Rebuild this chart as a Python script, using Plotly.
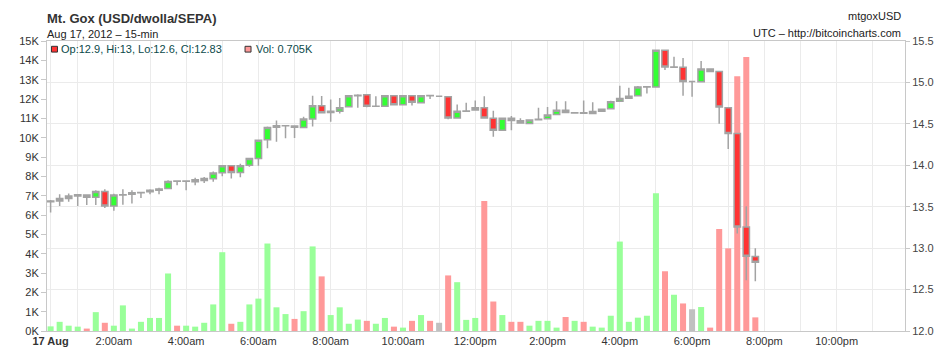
import plotly.graph_objects as go
import pandas as pd

# ---------------- data (15-min candles, Aug 17 2012) ----------------
first_candle = "2012-08-17 00:15"
opens = [13.56, 13.57, 13.60, 13.63, 13.64, 13.615, 13.685, 13.51, 13.64, 13.65,
         13.668, 13.68, 13.70, 13.72, 13.81, 13.807, 13.80, 13.817, 13.836, 13.91,
         13.995, 13.913, 14.0, 14.081, 14.307, 14.458, 14.476, 14.474, 14.455, 14.56,
         14.719, 14.637, 14.653, 14.707, 14.84, 14.852, 14.712, 14.712, 14.84, 14.731,
         14.84, 14.754, 14.842, 14.832, 14.828, 14.572, 14.653, 14.668, 14.695, 14.567,
         14.423, 14.567, 14.537, 14.505, 14.55, 14.563, 14.614, 14.665, 14.632, 14.635,
         14.625, 14.653, 14.682, 14.773, 14.808, 14.84, 14.945, 14.945, 15.388, 15.183,
         15.182, 15.01, 15.007, 15.162, 15.132, 14.695, 14.385, 13.256, 12.9]
highs = [13.58, 13.65, 13.66, 13.65, 13.65, 13.70, 13.71, 13.655, 13.71, 13.70,
         13.675, 13.71, 13.73, 13.82, 13.812, 13.812, 13.85, 13.86, 13.925, 14.003,
         14.003, 14.018, 14.088, 14.307, 14.467, 14.54, 14.48, 14.48, 14.587, 14.838,
         14.835, 14.793, 14.812, 14.84, 14.856, 14.856, 14.832, 14.842, 14.842, 14.842,
         14.842, 14.842, 14.852, 14.84, 14.832, 14.735, 14.754, 14.782, 14.832, 14.657,
         14.57, 14.595, 14.567, 14.555, 14.695, 14.703, 14.773, 14.773, 14.64, 14.782,
         14.762, 14.68, 14.78, 14.96, 14.937, 14.957, 14.95, 15.395, 15.395, 15.31,
         15.295, 15.012, 15.26, 15.17, 15.135, 14.70, 14.39, 13.505, 13.0]
lows = [13.43, 13.51, 13.56, 13.51, 13.52, 13.52, 13.485, 13.45, 13.525, 13.54,
        13.605, 13.65, 13.65, 13.71, 13.76, 13.70, 13.76, 13.785, 13.80, 13.867,
        13.84, 13.855, 13.983, 13.995, 14.205, 14.283, 14.326, 14.33, 14.45, 14.467,
        14.633, 14.525, 14.625, 14.707, 14.695, 14.70, 14.71, 14.71, 14.725, 14.73,
        14.723, 14.75, 14.80, 14.83, 14.555, 14.57, 14.65, 14.665, 14.57, 14.345,
        14.42, 14.423, 14.505, 14.50, 14.548, 14.56, 14.61, 14.635, 14.63, 14.625,
        14.62, 14.649, 14.68, 14.77, 14.805, 14.838, 14.867, 14.94, 15.15, 15.18,
        14.84, 14.828, 15.005, 15.13, 14.502, 14.198, 13.178, 12.611, 12.6]
closes = [13.57, 13.60, 13.63, 13.645, 13.615, 13.685, 13.51, 13.64, 13.645, 13.67,
          13.673, 13.70, 13.715, 13.805, 13.807, 13.81, 13.825, 13.84, 13.906, 13.995,
          13.913, 13.995, 14.081, 14.303, 14.455, 14.476, 14.478, 14.458, 14.56, 14.719,
          14.633, 14.653, 14.695, 14.84, 14.845, 14.712, 14.714, 14.84, 14.731, 14.84,
          14.762, 14.84, 14.838, 14.832, 14.572, 14.653, 14.655, 14.695, 14.572, 14.423,
          14.567, 14.54, 14.509, 14.548, 14.555, 14.607, 14.665, 14.637, 14.635, 14.628,
          14.649, 14.677, 14.768, 14.806, 14.832, 14.945, 14.948, 15.388, 15.185, 15.186,
          15.01, 15.01, 15.162, 15.132, 14.703, 14.385, 13.256, 12.903, 12.83]
volumes_k = [0.24, 0.475, 0.275, 0.225, 0.125, 0.975, 0.425, 0.275, 1.325, 0.125,
             0.475, 0.675, 0.675, 2.975, 0.275, 0.275, 0.225, 0.425, 1.375, 4.075,
             0.375, 0.475, 1.375, 1.675, 4.525, 1.225, 0.875, 0.625, 1.025, 4.375,
             2.825, 0.825, 1.225, 0.375, 0.59, 0.525, 0.375, 0.675, 0.225, 0.175,
             0.525, 0.825, 0.525, 0.425, 2.875, 2.525, 0.575, 0.675, 6.725, 1.525,
             0.825, 0.475, 0.475, 0.275, 0.525, 0.525, 0.175, 0.725, 0.525, 0.475,
             0.225, 0.175, 0.79, 4.625, 0.475, 0.69, 0.79, 7.125, 3.09, 1.875,
             1.425, 1.125, 1.24, 0.175, 5.275, 4.275, 13.175, 14.175, 0.705]
last_volume_label = 0.705

hour_labels = ["", "2:00am", "", "4:00am", "", "6:00am", "", "8:00am", "", "10:00am", "",
               "12:00pm", "", "2:00pm", "", "4:00pm", "", "6:00pm", "", "8:00pm", "",
               "10:00pm", ""]
day_label = "17 Aug"

# ---------------- figure ----------------
times = pd.date_range(first_candle, periods=len(opens), freq="15min")
vol_colors = ["#99ff99" if c > o else ("#ff9999" if c < o else "#c0c0c0")
              for o, c in zip(opens, closes)]

W, H = 946, 359
L, R, T, B = 47, 39, 41, 17
pw, ph = W - L - R, H - T - B


def px(x):
    return (x - L) / pw


def py(y):
    return (H - B - y) / ph


FONT = "Liberation Sans, Arial, sans-serif"

fig = go.Figure()
fig.add_trace(go.Bar(x=times, y=volumes_k, yaxis="y", marker=dict(color=vol_colors, line=dict(width=0)),
                     width=10 * 60 * 1000, hoverinfo="skip", showlegend=False))
fig.add_trace(go.Candlestick(x=times, open=opens, high=highs, low=lows, close=closes, yaxis="y2",
                             increasing=dict(fillcolor="#33ff33", line=dict(color="#a3a3a3", width=1.5)),
                             decreasing=dict(fillcolor="#ff3333", line=dict(color="#a3a3a3", width=1.5)),
                             whiskerwidth=0, hoverinfo="skip", showlegend=False))

day0 = pd.Timestamp("2012-08-17")
tickvals = [times[0]] + [day0 + pd.Timedelta(hours=h) for h in range(1, 24)]
ticktext = ["<b>" + day_label + "</b>"] + hour_labels

fig.update_layout(
    width=W, height=H,
    margin=dict(l=L, r=R, t=T, b=B, pad=0),
    paper_bgcolor="white", plot_bgcolor="white",
    font=dict(family=FONT, size=11, color="#333"),
    boxgap=0.3, boxgroupgap=0,
    xaxis=dict(type="date",
               range=[day0 + pd.Timedelta(minutes=9), day0 + pd.Timedelta(hours=23, minutes=53, seconds=30)],
               tickmode="array", tickvals=tickvals, ticktext=ticktext,
               showgrid=True, gridcolor="#ebebeb", gridwidth=1,
               showline=True, linecolor="#c8c8c8", linewidth=1, mirror=True,
               ticks="", zeroline=False, rangeslider=dict(visible=False),
               tickfont=dict(size=11, color="#333")),
    yaxis=dict(range=[0, 15], dtick=1, ticksuffix="K", showgrid=False, zeroline=False,
               showline=True, linecolor="#c8c8c8", linewidth=1,
               ticks="outside", ticklen=5, tickcolor="#c8c8c8",
               tickfont=dict(size=11, color="#333")),
    yaxis2=dict(range=[12, 15.5], dtick=0.5, tickformat=".1f", overlaying="y", side="right",
                showgrid=True, gridcolor="#ebebeb", zeroline=False,
                showline=True, linecolor="#c8c8c8", linewidth=1,
                ticks="outside", ticklen=4, tickcolor="#c8c8c8",
                tickfont=dict(size=11, color="#444")),
)

o, h, l, c = opens[-1], highs[-1], lows[-1], closes[-1]
legend_text = f"Op:{o:g}, Hi:{h:g}, Lo:{l:g}, Cl:{c:g}"
vol_text = f"Vol: {last_volume_label:g}K"

annotations = [
    dict(text="<b>Mt. Gox (USD/dwolla/SEPA)</b>", x=px(45), y=py(17.5), xanchor="left", yanchor="middle",
         font=dict(size=13, color="#333")),
    dict(text="Aug 17, 2012 – 15-min", x=px(45), y=py(33.5), xanchor="left", yanchor="middle",
         font=dict(size=11, color="#222")),
    dict(text="mtgoxUSD", x=px(905), y=py(15.5), xanchor="right", yanchor="middle",
         font=dict(size=11, color="#222")),
    dict(text="UTC – http://bitcoincharts.com", x=px(905), y=py(32.5), xanchor="right", yanchor="middle",
         font=dict(size=11, color="#222")),
    dict(text=legend_text, x=px(59), y=py(49.5), xanchor="left", yanchor="middle",
         font=dict(size=11, color="#0b4a4a")),
    dict(text=vol_text, x=px(254), y=py(49.5), xanchor="left", yanchor="middle",
         font=dict(size=11, color="#0b4a4a")),
]
for a in annotations:
    a.update(xref="paper", yref="paper", showarrow=False)
fig.update_layout(annotations=annotations)

fig.update_layout(shapes=[
    dict(type="rect", xref="paper", yref="paper", x0=px(51.5), x1=px(57.5), y0=py(52.5), y1=py(46.5),
         fillcolor="#ff3333", line=dict(color="#333", width=1)),
    dict(type="rect", xref="paper", yref="paper", x0=px(245.5), x1=px(251.5), y0=py(52.5), y1=py(46.5),
         fillcolor="#ff9999", line=dict(color="#333", width=1)),
])

fig.write_html("out.html", config={"displayModeBar": False},
               post_script="document.body.style.margin='0';document.body.style.padding='0';")
